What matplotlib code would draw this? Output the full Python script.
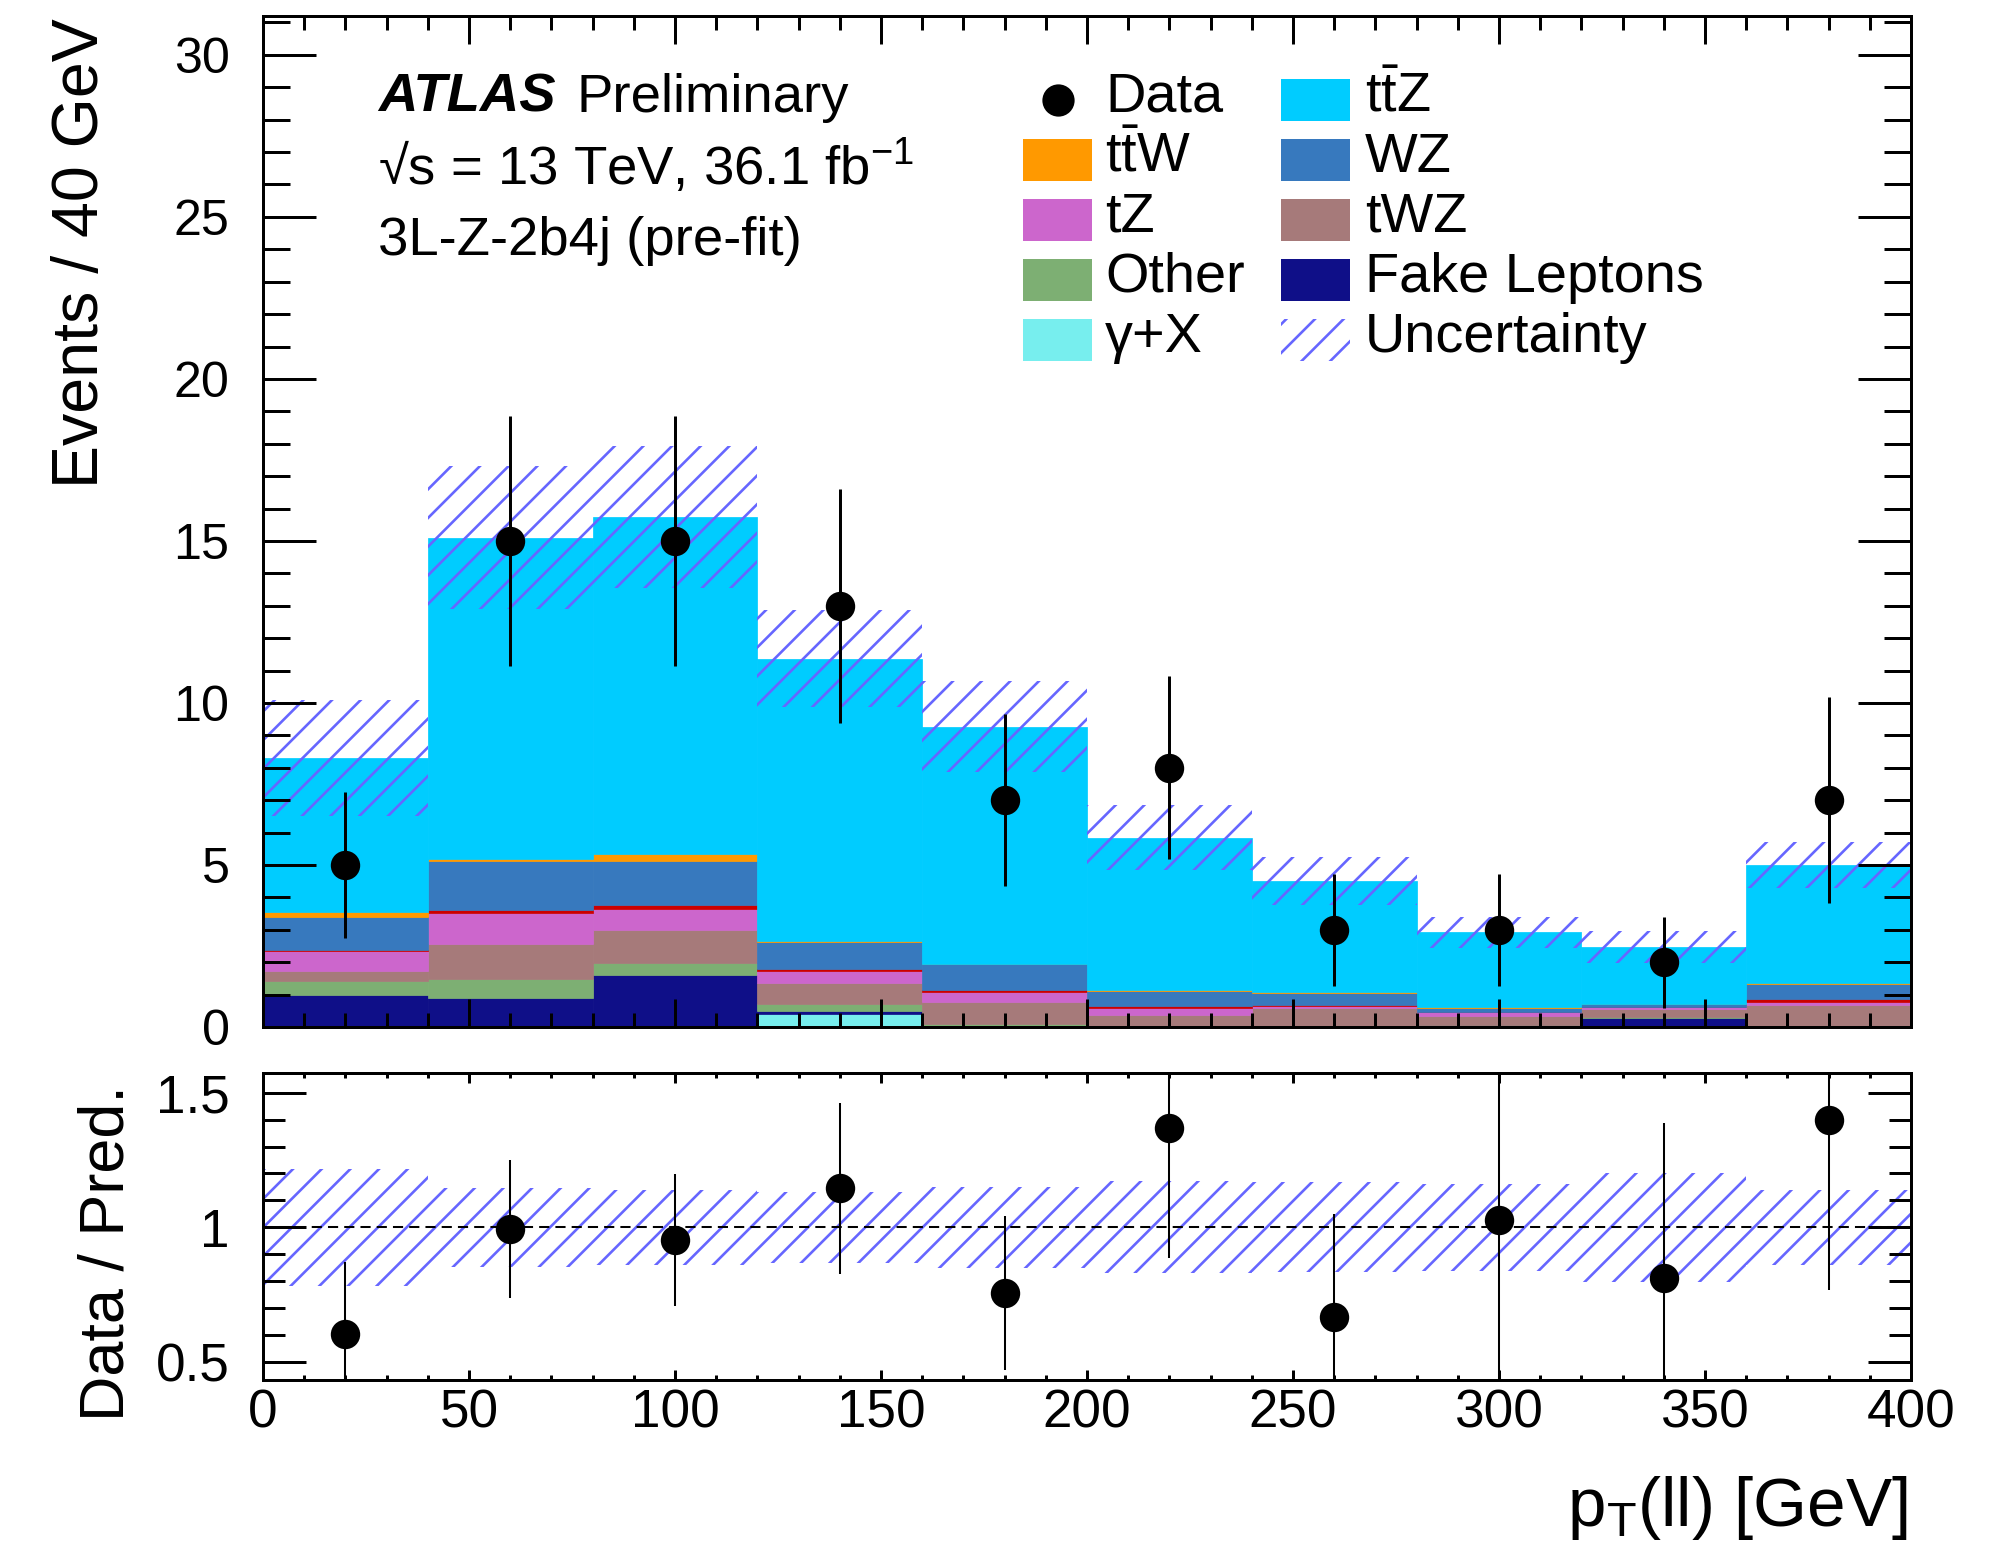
import numpy as np
import matplotlib
matplotlib.use("Agg")
import matplotlib.pyplot as plt
from matplotlib.patches import Rectangle
from matplotlib.lines import Line2D
from matplotlib.ticker import MultipleLocator, FuncFormatter

plt.rcParams["font.family"] = ["Liberation Sans", "DejaVu Sans"]
plt.rcParams["mathtext.fontset"] = "custom"
plt.rcParams["mathtext.rm"] = "Liberation Sans"
plt.rcParams["mathtext.it"] = "Liberation Sans:italic"
plt.rcParams["mathtext.bf"] = "Liberation Sans:bold"
plt.rcParams["hatch.linewidth"] = 1.1

# bins of pT(ll) [GeV]
bin_lo = [0, 40, 80, 120, 160, 200, 240, 280, 320, 360]
bin_width = 40
centers = [20, 60, 100, 140, 180, 220, 260, 300, 340, 380]

# stacked backgrounds, bottom -> top
gamma_x = [0.00, 0.00, 0.00, 0.40, 0.00, 0.00, 0.00, 0.00, 0.00, 0.00]
fake    = [1.00, 0.90, 1.62, 0.08, 0.00, 0.00, 0.00, 0.05, 0.28, 0.00]
other   = [0.41, 0.58, 0.35, 0.24, 0.09, 0.02, 0.02, 0.02, 0.02, 0.02]
twz     = [0.33, 1.08, 1.02, 0.64, 0.67, 0.36, 0.56, 0.26, 0.26, 0.66]
tz      = [0.60, 0.95, 0.65, 0.36, 0.31, 0.21, 0.08, 0.12, 0.05, 0.10]
minor   = [0.05, 0.10, 0.13, 0.07, 0.06, 0.07, 0.02, 0.02, 0.02, 0.08]
wz      = [1.00, 1.50, 1.36, 0.83, 0.80, 0.46, 0.37, 0.13, 0.07, 0.47]
ttw     = [0.16, 0.09, 0.21, 0.02, 0.02, 0.02, 0.02, 0.01, 0.01, 0.02]
ttz     = [4.75, 9.90, 10.40, 8.72, 7.32, 4.70, 3.43, 2.31, 1.75, 3.65]

unc = [1.80, 2.20, 2.20, 1.50, 1.40, 1.00, 0.75, 0.47, 0.50, 0.70]

data = [5, 15, 15, 13, 7, 8, 3, 3, 2, 7]
data_err = [2.24, 3.87, 3.87, 3.61, 2.65, 2.83, 1.73, 1.73, 1.41, 3.17]

c_ttz = "#00ccff"
c_ttw = "#ff9900"
c_wz = "#3779be"
c_tz = "#cc66cc"
c_twz = "#a67a7a"
c_other = "#7daf73"
c_fake = "#0f0f88"
c_gam = "#77eeee"
c_minor = "#cc0000"
c_unc = "#6666ff"

W, H, DPI = 2003, 1544, 172


def fx(px):
    return px / W


def fy(py):
    return 1 - py / H


fig = plt.figure(figsize=(W / DPI, H / DPI), dpi=DPI)
ax = fig.add_axes([fx(263), fy(1027), (1911 - 263) / W, (1027 - 16) / H])
ax2 = fig.add_axes([fx(263), fy(1380), (1911 - 263) / W, (1380 - 1073) / H])

stack = [(gamma_x, c_gam), (fake, c_fake), (other, c_other), (twz, c_twz),
         (tz, c_tz), (minor, c_minor), (wz, c_wz), (ttw, c_ttw), (ttz, c_ttz)]
bottom = np.zeros(len(bin_lo))
for vals, col in stack:
    ax.bar(bin_lo, vals, width=bin_width, align="edge", bottom=bottom,
           color=col, edgecolor=col, linewidth=0.3)
    bottom = bottom + np.array(vals)
total = bottom
unc = np.array(unc)

ax.bar(bin_lo, 2 * unc, width=bin_width, align="edge", bottom=total - unc,
       facecolor="none", edgecolor=c_unc, linewidth=0, hatch="//")
ax.errorbar(centers, data, yerr=data_err, fmt="o", color="k", ms=11.3,
            elinewidth=1.25, capsize=0, zorder=5)

ax.set_xlim(0, 400)
ax.set_ylim(0, 31.2)
ax.xaxis.set_major_locator(MultipleLocator(50))
ax.xaxis.set_minor_locator(MultipleLocator(10))
ax.yaxis.set_major_locator(MultipleLocator(5))
ax.yaxis.set_minor_locator(MultipleLocator(1))
ax.tick_params(which="both", direction="in", top=True, right=True, width=1.25)
ax.tick_params(axis="y", which="major", length=22, labelsize=21, pad=14)
ax.tick_params(axis="y", which="minor", length=11.3)
ax.tick_params(axis="x", which="major", length=11.7, labelbottom=False)
ax.tick_params(axis="x", which="minor", length=5.9)
for s in ax.spines.values():
    s.set_linewidth(1.25)

# ratio panel
ratio = np.array(data) / total
ratio_err = np.array(data_err) / total
rel = unc / total
ax2.bar(bin_lo, 2 * rel, width=bin_width, align="edge", bottom=1 - rel,
        facecolor="none", edgecolor=c_unc, linewidth=0, hatch="//")
ax2.axhline(1, color="k", lw=0.85, ls=(0, (5, 3)))
ax2.errorbar(centers, ratio, yerr=ratio_err, fmt="o", color="k", ms=11.3,
             elinewidth=0.85, capsize=0, zorder=5)
ax2.set_xlim(0, 400)
ax2.set_ylim(0.433, 1.573)
ax2.xaxis.set_major_locator(MultipleLocator(50))
ax2.xaxis.set_minor_locator(MultipleLocator(10))
ax2.yaxis.set_major_locator(MultipleLocator(0.5))
ax2.yaxis.set_minor_locator(MultipleLocator(0.1))
ax2.yaxis.set_major_formatter(FuncFormatter(lambda v, p: "%g" % v))
ax2.tick_params(which="both", direction="in", top=True, right=True, width=1.25)
ax2.tick_params(axis="y", which="major", length=18, labelsize=22.2, pad=14)
ax2.tick_params(axis="y", which="minor", length=9.2)
ax2.tick_params(axis="x", which="major", length=4.2, labelsize=22.2, pad=3.5)
ax2.tick_params(axis="x", which="minor", length=2.1)
for s in ax2.spines.values():
    s.set_linewidth(1.25)

# axis titles
fig.text(fx(98), fy(18), "Events / 40 GeV", rotation=90, rotation_mode="anchor",
         ha="right", va="baseline", fontsize=27)
fig.text(fx(123), fy(1253), "Data / Pred.", rotation=90, rotation_mode="anchor",
         ha="center", va="baseline", fontsize=26.4)
fig.text(fx(1908), fy(1526), r"p$_{\mathrm{T}}$(ll) [GeV]", ha="right",
         va="baseline", fontsize=29)

# ATLAS label
fig.text(fx(378), fy(112), "ATLAS", fontsize=22.8, weight="bold", style="italic")
fig.text(fx(576), fy(112), "Preliminary", fontsize=22.8)
fig.text(fx(378), fy(185), r"√s = 13 TeV, 36.1 fb$^{\mathrm{-1}}$", fontsize=22.8)
fig.text(fx(378), fy(255), "3L-Z-2b4j (pre-fit)", fontsize=22.8)

# legend
rows = [100, 160, 220, 280, 340]
col1 = [("Data", None), (r"$\mathrm{t\bar{t}W}$", c_ttw), ("tZ", c_tz),
        ("Other", c_other), ("γ+X", c_gam)]
col2 = [(r"$\mathrm{t\bar{t}Z}$", c_ttz), ("WZ", c_wz), ("tWZ", c_twz),
        ("Fake Leptons", c_fake), ("Uncertainty", "hatch")]
for (box_x, text_x, entries) in [(1023, 1105, col1), (1281, 1365, col2)]:
    for ry, (label, col) in zip(rows, entries):
        if col is None:
            fig.add_artist(Line2D([fx(box_x + 35)], [fy(ry)], marker="o", ms=12.5,
                                  color="k", transform=fig.transFigure))
        elif col == "hatch":
            fig.add_artist(Rectangle((fx(box_x), fy(ry + 21)), 69 / W, 42 / H,
                                     facecolor="none", edgecolor=c_unc, linewidth=0,
                                     hatch="//", transform=fig.transFigure))
        else:
            fig.add_artist(Rectangle((fx(box_x), fy(ry + 21)), 69 / W, 42 / H,
                                     facecolor=col, edgecolor="none",
                                     transform=fig.transFigure))
        fig.text(fx(text_x), fy(ry + 12), label, fontsize=23.4, va="baseline")

fig.savefig("out.png", dpi=DPI)
